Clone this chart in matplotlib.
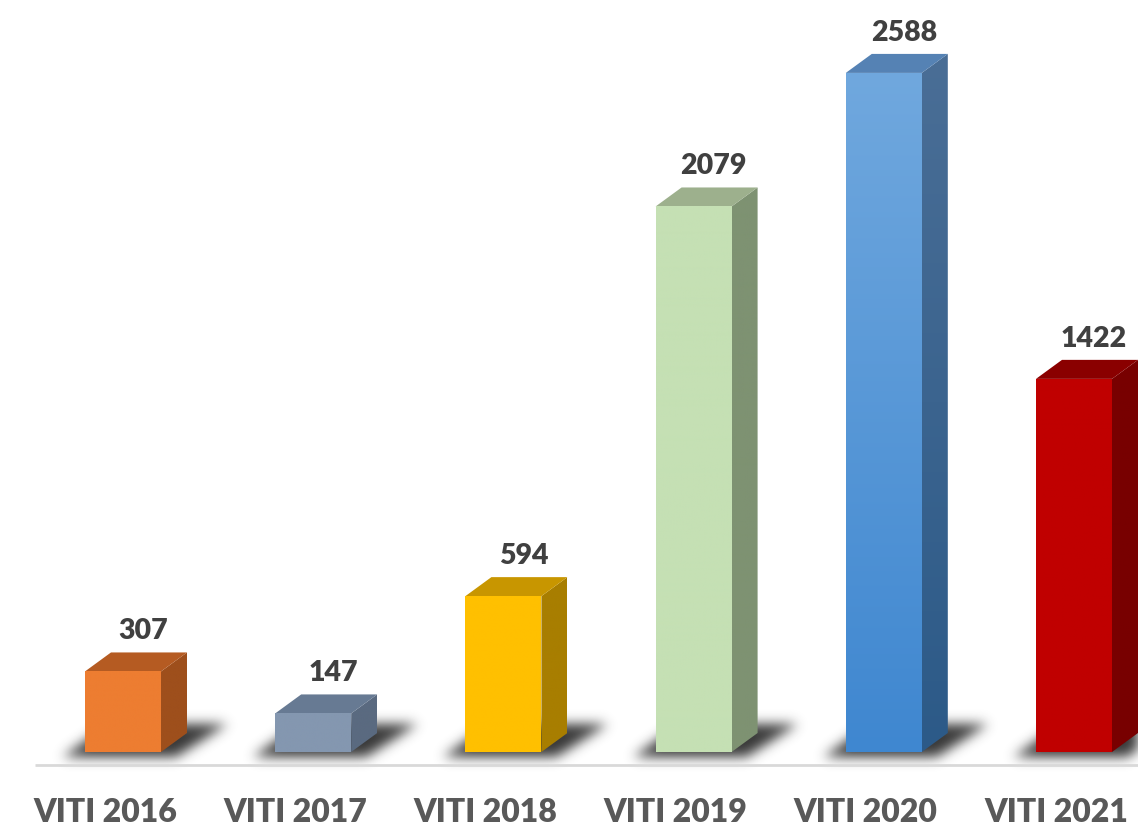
import numpy as np
import matplotlib
matplotlib.use('Agg')
import matplotlib.pyplot as plt
from matplotlib.patches import Polygon
from matplotlib.colors import to_rgb

categories = ['VITI 2016', 'VITI 2017', 'VITI 2018', 'VITI 2019', 'VITI 2020', 'VITI 2021']
values = [307, 147, 594, 2079, 2588, 1422]

front_top = ['#ED7D31', '#8497B0', '#FFC000', '#C5E0B4', '#70A8DE', '#C00000']
front_bot = ['#ED7D31', '#8497B0', '#FFC000', '#C5E0B4', '#3F87D0', '#C00000']
side_top = ['#9E4F1C', '#5A6A80', '#A87E00', '#7E9272', '#4A6E96', '#780000']
side_bot = ['#9E4F1C', '#5A6A80', '#A87E00', '#7E9272', '#2C5A88', '#780000']
top_col = ['#B55B22', '#677A93', '#C89600', '#9DB08D', '#5582B4', '#8A0000']

W, H = 1138, 826
fig = plt.figure(figsize=(W / 100, H / 100), dpi=100)
ax = fig.add_axes([0, 0, 1, 1])
x0_px, step_px, base_px, ppu = 123.0, 190.2, 752.0, 0.2624
xlim = (-x0_px / step_px, (W - x0_px) / step_px)
ylim = (-(H - base_px) / ppu, base_px / ppu)


def px2x(p):
    return (p - x0_px) / step_px


def px2y(p):
    return (base_px - p) / ppu


bw = 76 / step_px
dx = 26 / step_px
dy = 19 / ppu


def grad_face(verts, c_top, c_bot, z):
    poly = Polygon(verts, closed=True, facecolor='none', edgecolor='none')
    ax.add_patch(poly)
    xs = [v[0] for v in verts]
    ys = [v[1] for v in verts]
    t = np.linspace(0, 1, 256)[:, None]
    a = np.array(to_rgb(c_top))
    b = np.array(to_rgb(c_bot))
    img = (a * (1 - t) + b * t)[:, None, :]
    im = ax.imshow(img, extent=(min(xs), max(xs), min(ys), max(ys)), origin='upper',
                   aspect='auto', zorder=z, interpolation='bilinear')
    im.set_clip_path(poly)


# shadows (pixel space, blurred)
mask = np.zeros((H, W))
yy = np.arange(H)[:, None]
xx = np.arange(W)[None, :]
for i, v in enumerate(values):
    L = x0_px + step_px * i - 38
    R = L + 76
    yb, yt = 756, 724
    s = np.clip((yb - yy), 0, None)
    k = 50.0 / (yb - yt)
    inside = (yy >= yt) & (yy <= yb) & (xx >= L - 22 + s * k * 0.9) & (xx <= R + 15 + s * k)
    mask = np.maximum(mask, inside.astype(float))


def blur(a, sig):
    r = int(3 * sig)
    k = np.exp(-0.5 * (np.arange(-r, r + 1) / sig) ** 2)
    k /= k.sum()
    a = np.apply_along_axis(lambda m: np.convolve(m, k, mode='same'), 1, a)
    a = np.apply_along_axis(lambda m: np.convolve(m, k, mode='same'), 0, a)
    return a


mask = blur(mask, 6)
sh = np.zeros((H, W, 4))
sh[..., 0:3] = 0.18
sh[..., 3] = np.clip(mask * 0.95, 0, 1)
ax.imshow(sh, extent=(xlim[0], xlim[1], ylim[0], ylim[1]), origin='upper',
          aspect='auto', zorder=1, interpolation='bilinear')

for i, v in enumerate(values):
    xl = i - bw / 2
    xr = i + bw / 2
    side = [(xr, 0), (xr + dx, dy), (xr + dx, v + dy), (xr, v)]
    grad_face(side, side_top[i], side_bot[i], 2)
    top = [(xl, v), (xl + dx, v + dy), (xr + dx, v + dy), (xr, v)]
    ax.add_patch(Polygon(top, closed=True, facecolor=top_col[i], edgecolor='none', zorder=3))
    front = [(xl, 0), (xl, v), (xr, v), (xr, 0)]
    grad_face(front, front_top[i], front_bot[i], 4)
    ax.text(i + 20 / step_px, v + dy + 8 / ppu, f'{v}', ha='center', va='bottom',
            fontsize=20.5, fontweight='heavy', color='#404040', family='Lato', zorder=5)
    ax.text(i - 18 / step_px, px2y(813), categories[i], ha='center', va='center',
            fontsize=23, fontweight='heavy', color='#595959', family='Lato', zorder=5)

ax.plot([px2x(35), xlim[1]], [px2y(765)] * 2, color='#D9D9D9', lw=2, zorder=1,
        solid_capstyle='butt')

ax.set_xlim(xlim)
ax.set_ylim(ylim)
ax.axis('off')
fig.savefig('out.png', dpi=100, facecolor='white')
